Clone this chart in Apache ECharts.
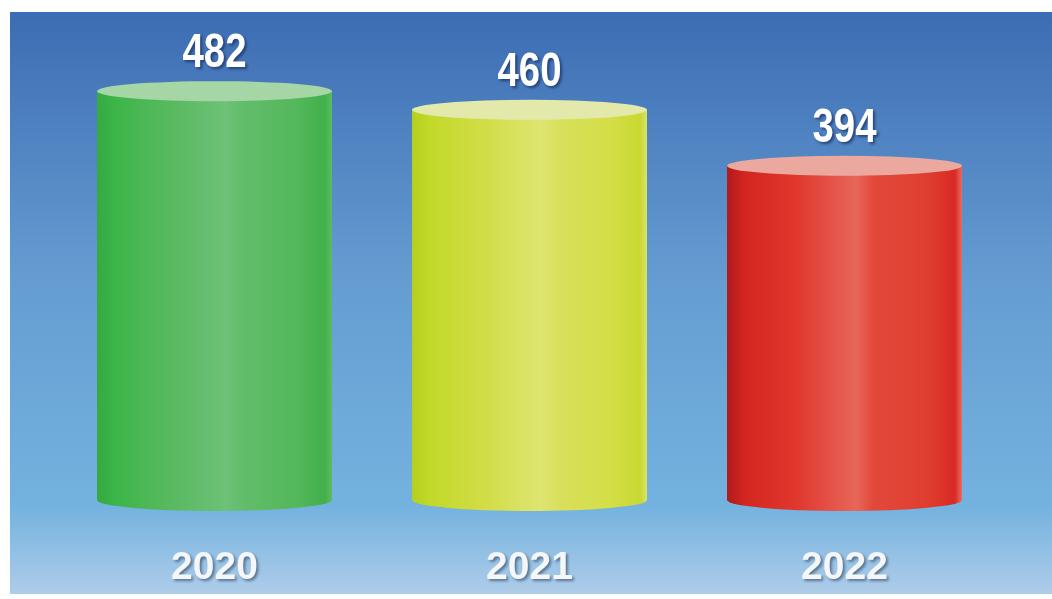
<!DOCTYPE html>
<html>
<head>
<meta charset="utf-8">
<title>Cylinders</title>
<script src="https://cdn.jsdelivr.net/npm/echarts@6/dist/echarts.min.js"></script>
<style>
  html, body { margin: 0; padding: 0; background: #fff; }
  #chart { width: 1052px; height: 599px; }
</style>
</head>
<body>
<div id="chart"></div>
<script>
// data
const years = ["2020", "2021", "2022"];
const values = [482, 460, 394];

// cylinder colours (body stops left -> right, then the lid)
const bodyStops = [
  ["#34aa40", "#3db549", "#57b95e", "#6dc178", "#62bd6b", "#54b75b", "#42b04a", "#5dbb64"],
  ["#b5cf1f", "#c3d92a", "#d0dd45", "#dee572", "#d8e05c", "#d4de45", "#c8d832", "#dbe36a"],
  ["#b01a1c", "#d4261f", "#e0382e", "#e8665a", "#e2493b", "#df3e2f", "#d92a25", "#e86b60"],
];
const lidColors = ["#a6d6a6", "#e2e9ab", "#eaa89e"];
const stopPos = [0, 0.08, 0.3, 0.55, 0.62, 0.85, 0.97, 1];

const myChart = echarts.init(document.getElementById("chart"));

const bodyFill = (i) =>
  new echarts.graphic.LinearGradient(0, 0, 1, 0,
    stopPos.map((p, k) => ({ offset: p, color: bodyStops[i][k] })));

const renderCylinder = (params, api) => {
  const i = params.dataIndex;
  const top = api.coord([api.value(0), api.value(1)]);
  const base = api.coord([api.value(0), 0]);
  const w = api.size([1, 0])[0] * 0.746;
  const rx = w / 2;
  const ry = 11;
  const cx = top[0];
  return {
    type: "group",
    children: [
      // bottom half ellipse
      {
        type: "circle",
        x: cx, y: base[1], scaleY: ry / rx,
        shape: { cx: 0, cy: 0, r: rx },
        style: { fill: bodyFill(i) },
      },
      // body
      {
        type: "rect",
        shape: { x: cx - rx, y: top[1], width: w, height: base[1] - top[1] },
        style: { fill: bodyFill(i) },
      },
      // lid
      {
        type: "circle",
        x: cx, y: top[1], scaleY: (ry - 1) / rx,
        shape: { cx: 0, cy: 0, r: rx },
        style: { fill: lidColors[i] },
      },
      // value label
      {
        type: "text",
        x: cx, y: top[1] - 37, scaleX: 0.8,
        style: {
          text: String(values[i]),
          fill: "#ffffff",
          fontFamily: "Liberation Sans",
          fontWeight: "bold",
          fontSize: 48,
          align: "center",
          verticalAlign: "middle",
          textShadowColor: "rgba(20,40,90,0.7)",
          textShadowBlur: 3,
          textShadowOffsetX: 2,
          textShadowOffsetY: 2,
        },
      },
    ],
  };
};

const option = {
  animation: false,
  graphic: [
    {
      type: "rect",
      z: -10,
      shape: { x: 10, y: 12, width: 1042, height: 582 },
      style: {
        fill: new echarts.graphic.LinearGradient(0, 0, 0, 1, [
          { offset: 0, color: "#3c6cb3" },
          { offset: 0.45, color: "#649cd1" },
          { offset: 0.85, color: "#74b2df" },
          { offset: 1, color: "#aecde9" },
        ]),
      },
    },
  ],
  grid: { left: 57, right: 50, top: 25, bottom: 99 },
  xAxis: {
    type: "category",
    data: years,
    axisLine: { show: false },
    axisTick: { show: false },
    axisLabel: {
      margin: 68,
      verticalAlign: "middle",
      color: "#f4f6f8",
      fontFamily: "Liberation Sans",
      fontWeight: "bold",
      fontSize: 39,
      textShadowColor: "rgba(40,60,90,0.6)",
      textShadowBlur: 3,
      textShadowOffsetX: 2,
      textShadowOffsetY: 2,
    },
  },
  yAxis: {
    type: "value",
    min: 0,
    max: 560,
    show: false,
    splitLine: { show: false },
  },
  series: [
    {
      type: "custom",
      renderItem: renderCylinder,
      data: years.map((y, i) => [i, values[i]]),
    },
  ],
};
myChart.setOption(option);
</script>
</body>
</html>
